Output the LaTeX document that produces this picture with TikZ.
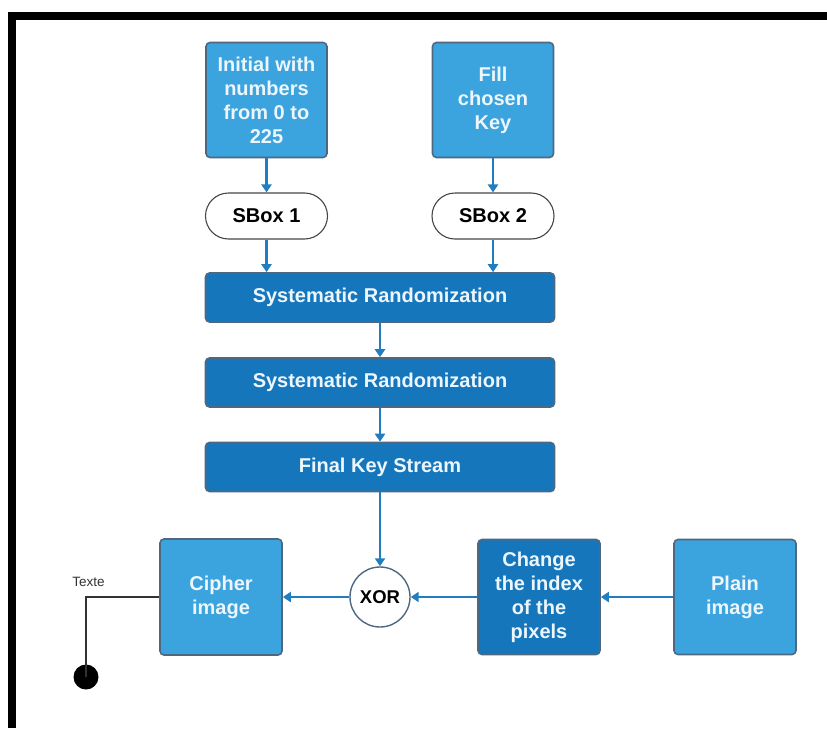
\documentclass[tikz,border=0pt]{standalone}
\usepackage{fontspec}
\setmainfont{Liberation Sans}
\usetikzlibrary{arrows.meta}

\definecolor{lightbox}{RGB}{59,163,221}
\definecolor{darkbox}{RGB}{21,118,188}
\definecolor{boxedge}{RGB}{78,104,130}
\definecolor{flowblue}{RGB}{32,126,192}
\definecolor{boxtext}{RGB}{236,246,252}
\definecolor{pilledge}{RGB}{70,70,70}
\definecolor{textline}{RGB}{50,50,50}

\tikzset{
  box/.style={draw=boxedge, line width=1.6pt, rounded corners=4pt,
    text=boxtext, font=\bfseries\fontsize{20}{24}\selectfont,
    align=center, inner sep=0pt},
  lightstep/.style={box, fill=lightbox, minimum width=121, minimum height=115},
  darkstep/.style={box, fill=darkbox},
  widestep/.style={darkstep, minimum width=349, minimum height=49},
  pill/.style={draw=pilledge, line width=1.1pt, fill=white, rounded corners=23pt,
    minimum width=122, minimum height=46, inner sep=0pt,
    font=\bfseries\fontsize{20}{24}\selectfont},
  xorcircle/.style={circle, draw=boxedge, line width=1.4pt, fill=white,
    minimum size=60, inner sep=0pt, font=\bfseries\fontsize{18.5}{22}\selectfont},
  flow/.style={draw=flowblue, line width=2.3pt,
    -{Triangle[width=10pt,length=8pt]}},
}

\begin{document}
\begin{tikzpicture}[x=1pt, y=-1pt]
  \useasboundingbox (0,0) rectangle (827,728);
  % frame
  \fill[black] (8,12) rectangle (827,20);
  \fill[black] (8,12) rectangle (16,728);

  % key setup
  \node[lightstep] (init) at (266.5,100) {Initial with\\numbers\\from 0 to\\225};
  \node[lightstep] (fill) at (493,100) {Fill\\chosen\\Key};
  \node[pill] (sbox1) at (266.5,216) {SBox 1};
  \node[pill] (sbox2) at (493,216) {SBox 2};
  \node[widestep] (rand1) at (380,297.5) {Systematic Randomization};
  \node[widestep] (rand2) at (380,382.5) {Systematic Randomization};
  \node[widestep] (final) at (380,467) {Final Key Stream};

  % encryption row
  \node[xorcircle] (xor) at (380,597) {XOR};
  \node[darkstep, minimum width=122, minimum height=115] (change) at (539,597)
    {Change\\the index\\of the\\pixels};
  \node[lightstep, minimum width=122, minimum height=116] (cipher) at (221,597) {Cipher\\image};
  \node[lightstep, minimum width=122] (plain) at (735,597) {Plain\\image};

  % connectors
  \draw[flow] (init.south) -- (sbox1.north);
  \draw[flow] (fill.south) -- (sbox2.north);
  \draw[flow] (sbox1.south) -- (sbox1.south |- rand1.north);
  \draw[flow] (sbox2.south) -- (sbox2.south |- rand1.north);
  \draw[flow] (rand1.south) -- (rand2.north);
  \draw[flow] (rand2.south) -- (final.north);
  \draw[flow] (final.south) -- (xor.north);
  \draw[flow] (plain.west) -- (change.east);
  \draw[flow] (change.west) -- (xor.east);
  \draw[flow] (xor.west) -- (xor.west -| cipher.east);

  % text callout
  \coordinate (bend) at (86,597);
  \node[circle, fill=black, minimum size=25, inner sep=0pt] (dot) at (86,677) {};
  \draw[textline, line width=2pt] (cipher.west |- bend) -- (bend) -- (dot.center);
  \node[font=\fontsize{13.5}{16}\selectfont, text=textline] (texte) at (88.5,582) {Texte};
\end{tikzpicture}
\end{document}
